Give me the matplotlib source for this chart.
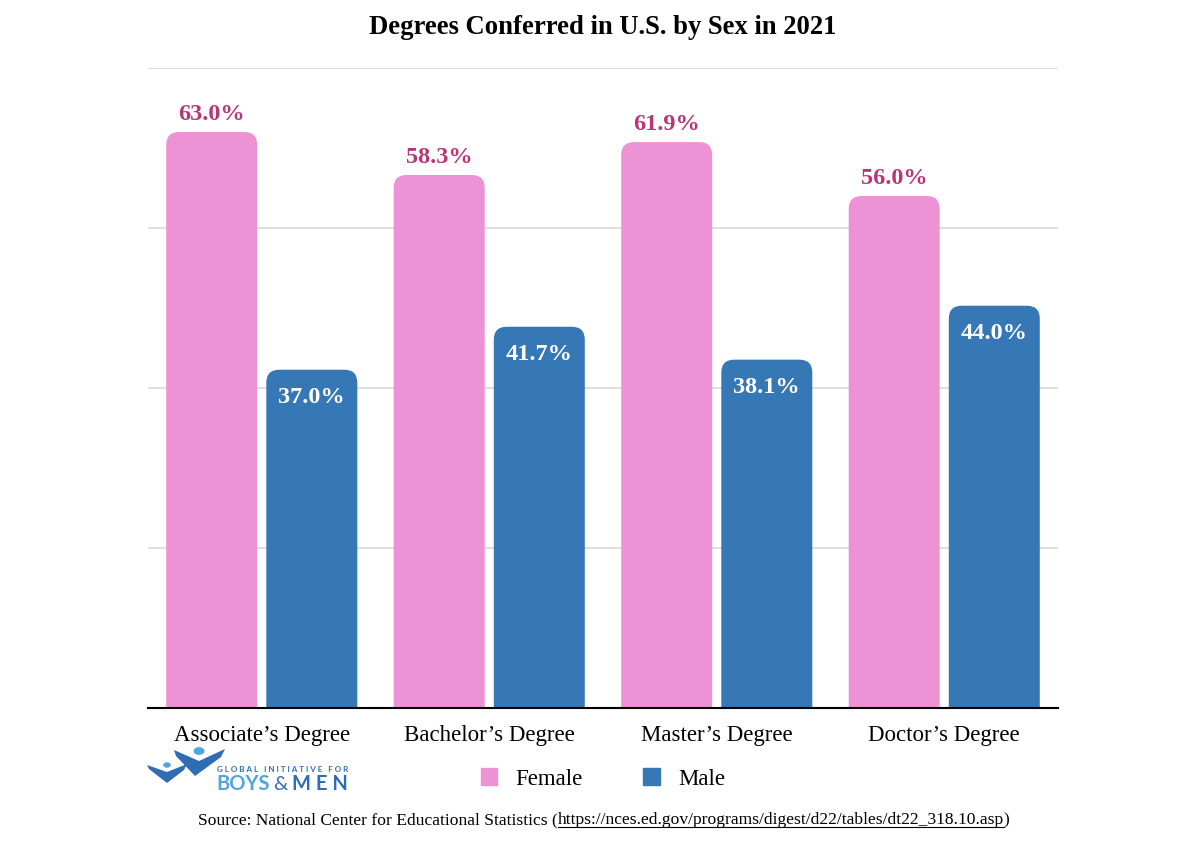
import numpy as np
import matplotlib
matplotlib.use("Agg")
import matplotlib.pyplot as plt
import matplotlib.patches as mpatches
from matplotlib.patches import FancyBboxPatch, Polygon, Circle

# ── Data ─────────────────────────────────────────────────────────────────────
degrees = ["Associate’s Degree", "Bachelor’s Degree", "Master’s Degree", "Doctor’s Degree"]
female = [63.0, 58.3, 61.9, 56.0]
male = [37.0, 41.7, 38.1, 44.0]

PINK = "#ED93D5"
BLUE = "#3677B6"
PINK_TXT = "#B8357A"
SERIF = ["Liberation Serif", "DejaVu Serif"]

fig = plt.figure(figsize=(12, 8.52), dpi=100)
W, H = 1200, 852
# axes: left 148px, right 1058px, top 68px (y=70), bottom 708px (y=0)
ax = fig.add_axes([148 / W, 1 - 708 / H, 910 / W, 640 / H])

x = np.arange(len(degrees))
bw = 0.40
off = 0.22
ymax = 70
ax.set_xlim(-0.5, len(degrees) - 0.5)
ax.set_ylim(0, ymax)

# data units per pixel -> aspect for rounded corners
px_x = 1.0 / (910 / 4)
px_y = ymax / 640
aspect = px_y / px_x
rad = 13 * px_x


def rounded_bars(xs, vals, color):
    for xc, v in zip(xs, vals):
        p = FancyBboxPatch((xc - bw / 2, -5), bw, v + 5,
                           boxstyle=f"round,pad=0,rounding_size={rad}",
                           mutation_aspect=aspect, fc=color, ec="none", zorder=3)
        ax.add_patch(p)


rounded_bars(x - off, female, PINK)
rounded_bars(x + off, male, BLUE)

for xc, v in zip(x - off, female):
    ax.text(xc, v + 0.8, f"{v:.1f}%", ha="center", va="bottom", color=PINK_TXT,
            fontsize=17.5, fontweight="bold", family=SERIF, zorder=4)
for xc, v in zip(x + off, male):
    ax.text(xc, v - 1.9, f"{v:.1f}%", ha="center", va="top", color="white",
            fontsize=17.5, fontweight="bold", family=SERIF, zorder=4)

ax.set_yticks(np.arange(17.5, ymax + 0.1, 17.5))
ax.yaxis.grid(True, color="#D9D9D9", lw=1.2)
ax.set_axisbelow(True)
ax.tick_params(axis="y", left=False, labelleft=False)
ax.tick_params(axis="x", bottom=False, pad=9)
ax.set_xticks(x)
ax.set_xticklabels(degrees, family=SERIF, fontsize=16.5)
for s in ["top", "right", "left"]:
    ax.spines[s].set_visible(False)
ax.spines["bottom"].set_color("black")
ax.spines["bottom"].set_linewidth(1.5)
ax.spines["bottom"].set_zorder(5)

# title
fig.text(603 / W, 1 - 28 / H, "Degrees Conferred in U.S. by Sex in 2021", ha="center",
         va="center", fontsize=19.2, fontweight="bold", family=SERIF)

# legend
fem_patch = mpatches.Patch(color=PINK, label="Female")
male_patch = mpatches.Patch(color=BLUE, label="Male")
leg = fig.legend(handles=[fem_patch, male_patch], loc="center",
                 bbox_to_anchor=(603 / W, 1 - 779 / H), ncol=2, frameon=False,
                 prop={"family": SERIF, "size": 16.5}, handlelength=0.72,
                 handleheight=0.72, handletextpad=0.8, columnspacing=2.65)

# logo
lx = fig.transFigure
DARK = "#2F6DB3"
LIGHT = "#4EA6DD"


def fpt(px, py):
    return (px / W, 1 - py / H)


big = Polygon([fpt(174, 750), fpt(199, 761), fpt(225, 749), fpt(221, 757),
               fpt(195, 776), fpt(176, 756)], closed=True, transform=lx,
              fc=DARK, ec="none")
small = Polygon([fpt(147, 765), fpt(167, 772), fpt(187, 764), fpt(184, 770),
                 fpt(167, 783), fpt(149, 769)], closed=True, transform=lx,
                fc=DARK, ec="none")
fig.add_artist(big)
fig.add_artist(small)
fig.add_artist(Circle(fpt(199, 751), 5.5 / W, transform=lx, fc=LIGHT, ec="none"))
fig.add_artist(Circle(fpt(167, 765), 3.8 / W, transform=lx, fc=LIGHT, ec="none"))
fig.text(217 / W, 1 - 770 / H, "G L O B A L   I N I T I A T I V E   F O R",
         fontsize=5.8, color=DARK, fontweight="bold", family="Lato",
         va="center", ha="left")
fig.text(216 / W, 1 - 784.5 / H, "BOYS", fontsize=14.5, color=LIGHT,
         fontweight="bold", family="Lato", va="center", ha="left")
fig.text(273 / W, 1 - 784.5 / H, "&", fontsize=14.5, color=DARK,
         family="Lato", va="center", ha="left")
fig.text(292 / W, 1 - 784.5 / H, "M E N", fontsize=14.5, color=DARK,
         fontweight="bold", family="Lato", va="center", ha="left")

# source line with underlined url
FS = 12.6
src = fig.text(198 / W, 1 - 820 / H, "Source: National Center for Educational Statistics (",
               fontsize=FS, family=SERIF, va="center", ha="left")
fig.canvas.draw()
r = fig.canvas.get_renderer()
bb = src.get_window_extent(r)
url = fig.text(bb.x1 / W, 1 - 820 / H, "https://nces.ed.gov/programs/digest/d22/tables/dt22_318.10.asp",
               fontsize=FS, family=SERIF, va="center", ha="left")
bb2 = url.get_window_extent(r)
fig.text(bb2.x1 / W, 1 - 820 / H, ")", fontsize=FS, family=SERIF, va="center", ha="left")
uy = (bb2.y0 + 1) / H
fig.add_artist(plt.Line2D([bb2.x0 / W, bb2.x1 / W], [uy, uy], transform=lx,
                          color="black", lw=0.8))

fig.savefig("out.png", dpi=100)
